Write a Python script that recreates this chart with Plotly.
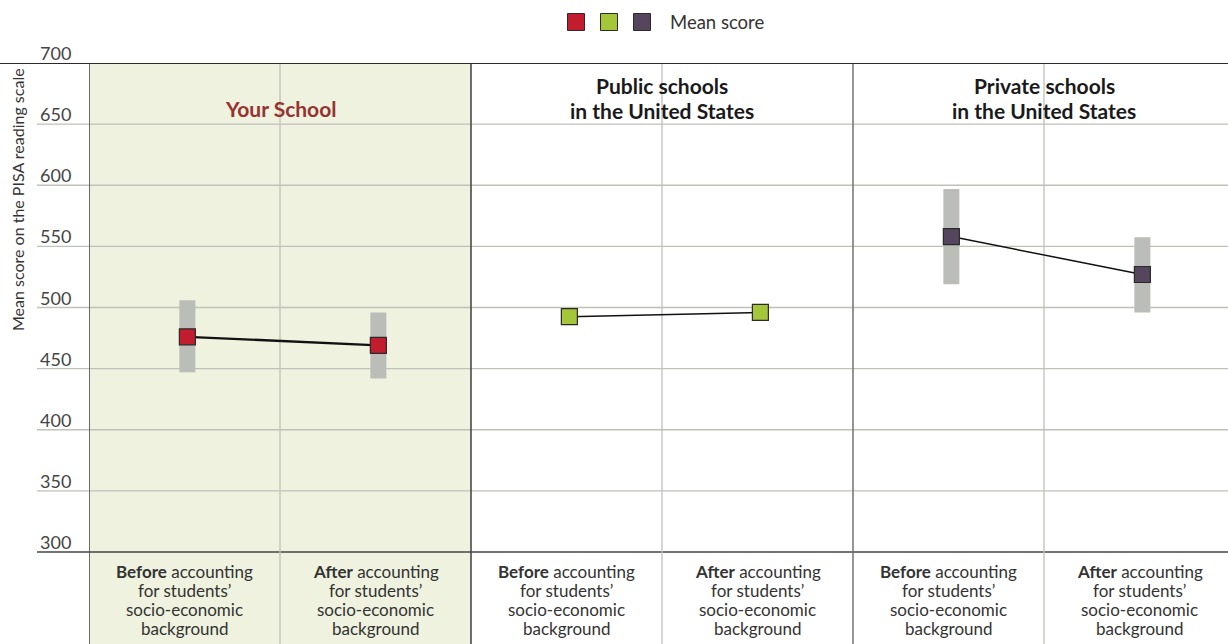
import plotly.graph_objects as go

# ---- data ----
groups = ["Your School", "Public schools<br>in the United States", "Private schools<br>in the United States"]
stages = ["Before", "After"]
mean_before = [476, 492.5, 558]
mean_after = [469, 496, 527]
ci_low_before = [447, 487.5, 519]
ci_high_before = [506, 497.5, 597]
ci_low_after = [442, 491, 496]
ci_high_after = [496, 501, 557.5]
y_ticks = [300, 350, 400, 450, 500, 550, 600, 650, 700]
marker_colors = ["#C21D2E", "#A6C63A", "#55465E"]

# ---- layout constants ----
W, H = 1228, 644
L = 89
T = 63
col_px = 191.0
x_max = (W - L) / col_px
y_top, y_bot_px300 = 700, 552
px_per_unit = (y_bot_px300 - T) / 400.0
y_min = 300 - (H - y_bot_px300) / px_per_unit
FONT = "Lato"


def py(px):
    """pixel row -> paper y"""
    return 1 - (px - T) / (H - T)


def px_x(px):
    """pixel column -> paper x"""
    return (px - L) / (W - L)


fig = go.Figure()

# error bars (grey bands)
for g in range(3):
    xs = [2 * g + 0.5 + 0.015, 2 * g + 1.5 + 0.015]
    means = [mean_before[g], mean_after[g]]
    hi = [ci_high_before[g] - mean_before[g], ci_high_after[g] - mean_after[g]]
    lo = [mean_before[g] - ci_low_before[g], mean_after[g] - ci_low_after[g]]
    fig.add_trace(go.Scatter(
        x=xs, y=means, mode="markers", marker=dict(size=1, opacity=0),
        error_y=dict(type="data", symmetric=False, array=hi, arrayminus=lo,
                     thickness=16, width=0, color="#BBBDB9"),
        showlegend=False, hoverinfo="skip"))

for g in range(3):
    xs = [2 * g + 0.5 + 0.015, 2 * g + 1.5 + 0.015]
    means = [mean_before[g], mean_after[g]]
    fig.add_trace(go.Scatter(
        x=xs, y=means, mode="lines+markers",
        line=dict(color="#111111", width=2.4 if g == 0 else 1.5),
        marker=dict(symbol="square", size=16, color=marker_colors[g],
                    line=dict(color="#2a2a2a", width=1.2)),
        showlegend=False, name=groups[g]))

shapes = []
# green panel
shapes.append(dict(type="rect", xref="x", yref="paper", x0=0, x1=2, y0=0, y1=1,
                   fillcolor="#EEF2DE", line=dict(width=0), layer="below"))
# gridlines
for v in y_ticks:
    if v == 700:
        shapes.append(dict(type="line", xref="paper", yref="y", x0=px_x(0), x1=1,
                           y0=v, y1=v, line=dict(color="#2b2b2b", width=2), layer="above"))
    elif v == 300:
        shapes.append(dict(type="line", xref="paper", yref="y", x0=px_x(37), x1=1,
                           y0=v, y1=v, line=dict(color="#444444", width=1.5), layer="below"))
    else:
        shapes.append(dict(type="line", xref="paper", yref="y", x0=px_x(37), x1=1,
                           y0=v, y1=v, line=dict(color="#BFC1BA", width=1.3), layer="below"))
# vertical lines
v_colors = {0: "#4a4a4a", 2: "#4a4a4a", 4: "#7a7a7a"}
for i in range(6):
    col = v_colors.get(i, "#BFC1BA")
    shapes.append(dict(type="line", xref="x", yref="paper", x0=i, x1=i, y0=0, y1=1,
                       line=dict(color=col, width=1.6 if i in v_colors else 1.3), layer="below"))

annotations = []
# y tick labels
for v in y_ticks:
    annotations.append(dict(xref="paper", yref="y", x=px_x(73), y=v,
                            xanchor="right", yanchor="bottom", yshift=-3,
                            text=str(v), showarrow=False,
                            font=dict(family=FONT, size=18, color="#444444")))
# y axis title
annotations.append(dict(xref="paper", yref="paper", x=px_x(18), y=py(200),
                        xanchor="center", yanchor="middle", textangle=-90,
                        text="Mean score on the PISA reading scale", showarrow=False,
                        font=dict(family=FONT, size=16, color="#333333")))
# panel titles
for g in range(3):
    if g == 0:
        annotations.append(dict(xref="x", yref="paper", x=1, y=py(108),
                                xanchor="center", yanchor="middle",
                                text="<b>" + groups[g] + "</b>", showarrow=False,
                                font=dict(family=FONT, size=21, color="#963330")))
    else:
        lines = groups[g].split("<br>")
        for k, ln in enumerate(lines):
            annotations.append(dict(xref="x", yref="paper", x=2 * g + 1, y=py(86 + 24 * k),
                                    xanchor="center", yanchor="middle",
                                    text="<b>" + ln + "</b>", showarrow=False,
                                    font=dict(family=FONT, size=21, color="#1a1a1a")))
# bottom category labels
label_lines = ["{} accounting", "for students\u2019", "socio-economic", "background"]
label_y = [571, 590.3, 609.6, 628.9]
for g in range(3):
    for s, st in enumerate(stages):
        xc = 2 * g + s + 0.5
        for k, ln in enumerate(label_lines):
            txt = ln.format("<b>" + st + "</b>") if k == 0 else ln
            annotations.append(dict(xref="x", yref="paper", x=xc, y=py(label_y[k]),
                                    xanchor="center", yanchor="middle", text=txt, showarrow=False,
                                    font=dict(family=FONT, size=17, color="#333333")))

# legend (top)
leg_y = py(22)
for i, c in enumerate(marker_colors):
    cx = 576 + 33 * i
    shapes.append(dict(type="rect", xref="paper", yref="paper",
                       x0=px_x(cx - 8.5), x1=px_x(cx + 8.5),
                       y0=py(22 + 8.5), y1=py(22 - 8.5),
                       fillcolor=c, line=dict(color="#2a2a2a", width=1)))
annotations.append(dict(xref="paper", yref="paper", x=px_x(668), y=leg_y,
                        xanchor="left", yanchor="middle", text="Mean score", showarrow=False,
                        font=dict(family=FONT, size=18.5, color="#333333")))

fig.update_layout(
    width=W, height=H,
    margin=dict(l=L, r=0, t=T, b=0),
    paper_bgcolor="white", plot_bgcolor="rgba(0,0,0,0)",
    xaxis=dict(range=[0, x_max], visible=False, fixedrange=True),
    yaxis=dict(range=[y_min, y_top], visible=False, fixedrange=True),
    shapes=shapes, annotations=annotations, showlegend=False,
)

fig.write_html("out.html", config={"displayModeBar": False},
               post_script="document.body.style.margin='0';document.body.style.overflow='hidden';")
